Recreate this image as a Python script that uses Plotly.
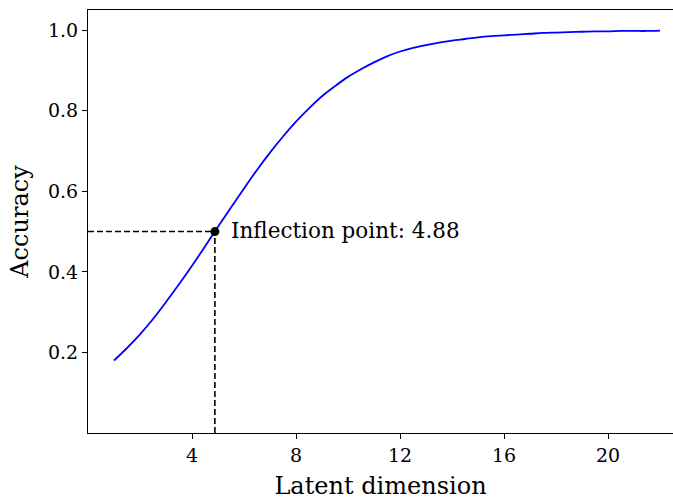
import plotly.graph_objects as go

# Data
latent_dim = [1, 1.5, 2, 2.5, 3, 3.5, 4, 4.5, 5, 5.5, 6, 6.5, 7, 7.5, 8, 8.5, 9, 9.5,
              10, 10.5, 11, 11.5, 12, 12.5, 13, 13.5, 14, 14.5, 15, 15.5, 16, 16.5,
              17, 17.5, 18, 18.5, 19, 19.5, 20, 20.5, 21, 21.5, 22]
accuracy = [0.180, 0.211, 0.245, 0.283, 0.325, 0.369, 0.415, 0.463, 0.512, 0.560,
            0.607, 0.653, 0.696, 0.736, 0.773, 0.806, 0.836, 0.861, 0.884, 0.903,
            0.920, 0.935, 0.947, 0.956, 0.963, 0.969, 0.974, 0.978, 0.982, 0.985,
            0.987, 0.989, 0.991, 0.993, 0.994, 0.995, 0.996, 0.997, 0.997, 0.998,
            0.998, 0.998, 0.999]
inflection_x = 4.88
inflection_y = 0.5
x_ticks = [4, 8, 12, 16, 20]
y_ticks = [0.2, 0.4, 0.6, 0.8, 1.0]

FONT = "DejaVu Serif"

fig = go.Figure()
fig.add_trace(go.Scatter(x=latent_dim, y=accuracy, mode="lines",
                         line=dict(color="#0000ff", width=1.8, shape="spline"),
                         showlegend=False, hoverinfo="skip"))
fig.add_trace(go.Scatter(x=[0, inflection_x], y=[inflection_y, inflection_y], mode="lines",
                         line=dict(color="black", width=1.6, dash="6px,3px"),
                         showlegend=False, hoverinfo="skip"))
fig.add_trace(go.Scatter(x=[inflection_x, inflection_x], y=[0, inflection_y], mode="lines",
                         line=dict(color="black", width=1.6, dash="6px,3px"),
                         showlegend=False, hoverinfo="skip"))
fig.add_trace(go.Scatter(x=[inflection_x], y=[inflection_y], mode="markers",
                         marker=dict(color="black", size=9),
                         showlegend=False, hoverinfo="skip"))
fig.add_annotation(x=inflection_x + 0.55, y=inflection_y + 0.003,
                   text=f"Inflection point: {inflection_x:.2f}",
                   showarrow=False, xanchor="left", yanchor="middle",
                   font=dict(family=FONT, size=21.5, color="black"))

fig.update_layout(
    width=673, height=500,
    margin=dict(l=88, r=0, t=10, b=67),
    paper_bgcolor="white", plot_bgcolor="white",
    font=dict(family=FONT, color="black"),
)
fig.update_xaxes(range=[0, 22.5], tickvals=x_ticks, ticktext=[str(v) for v in x_ticks],
                 showgrid=False, zeroline=False, showline=True, linecolor="black",
                 linewidth=1.2, mirror=True, ticks="outside", ticklen=5, tickwidth=1,
                 tickcolor="black", tickfont=dict(family=FONT, size=19),
                 title=dict(text="Latent dimension", font=dict(family=FONT, size=24),
                            standoff=15))
fig.update_yaxes(range=[0, 1.05], tickvals=y_ticks, ticktext=[f"{v:.1f}" for v in y_ticks],
                 showgrid=False, zeroline=False, showline=True, linecolor="black",
                 linewidth=1.2, mirror=False, ticks="outside", ticklen=5, tickwidth=1,
                 tickcolor="black", tickfont=dict(family=FONT, size=19),
                 title=dict(text="Accuracy", font=dict(family=FONT, size=24),
                            standoff=12))

fig.write_html("out.html")
